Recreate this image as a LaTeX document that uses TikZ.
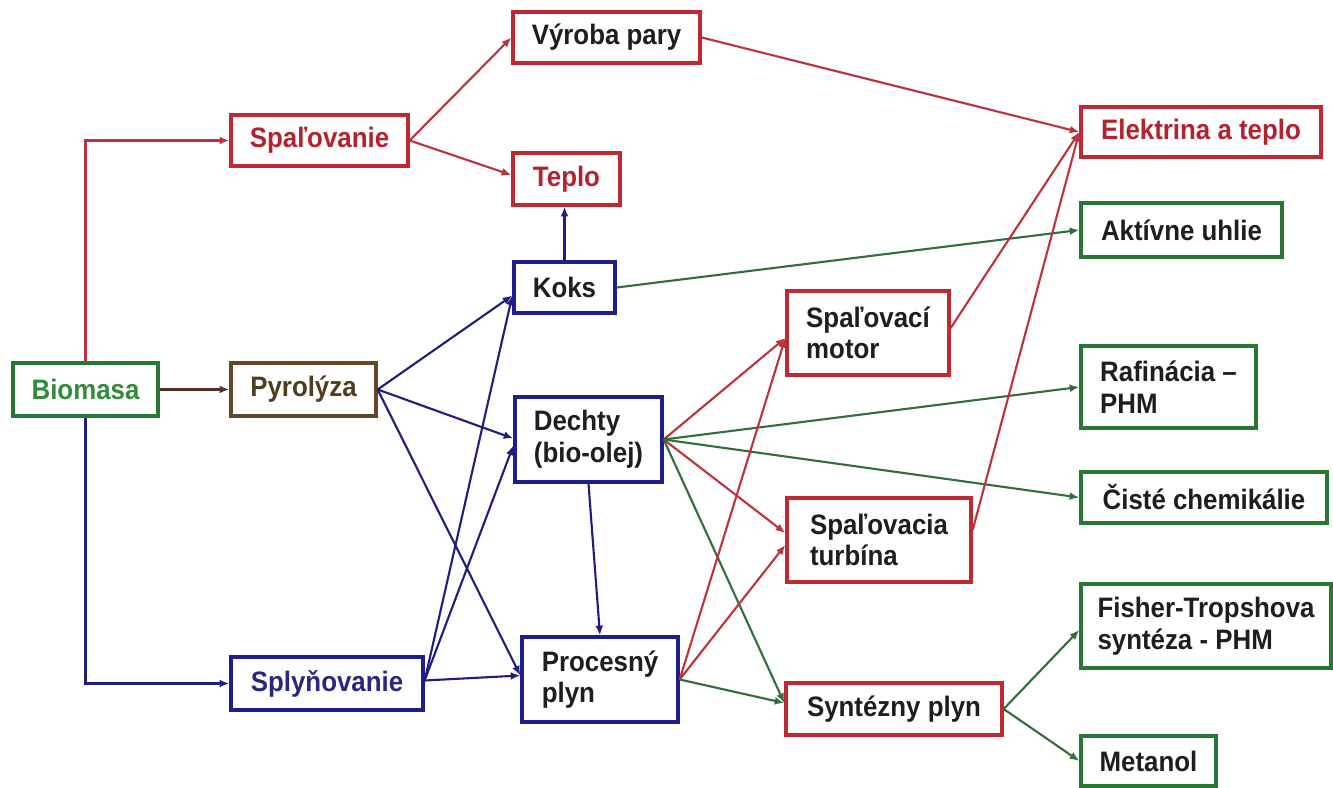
\documentclass[tikz,border=0pt]{standalone}
\usepackage{fontspec}
\setmainfont{Liberation Sans}[FakeStretch=0.92]
\usepackage{tikz}
\usetikzlibrary{positioning,calc,arrows.meta}

\definecolor{bred}{RGB}{192,40,50}
\definecolor{bblue}{RGB}{30,30,140}
\definecolor{bgreen}{RGB}{40,120,50}
\definecolor{bbrown}{RGB}{100,70,40}
\definecolor{tred}{RGB}{180,35,45}
\definecolor{tgreen}{RGB}{50,140,60}
\definecolor{tbrown}{RGB}{80,60,30}
\definecolor{tblue}{RGB}{40,40,130}
\definecolor{tblack}{RGB}{30,30,30}
\definecolor{lred}{RGB}{190,50,60}
\definecolor{lblue}{RGB}{30,30,130}
\definecolor{lgreen}{RGB}{50,110,60}
\definecolor{lbrown}{RGB}{80,50,40}

\tikzset{
  box/.style={draw, line width=1.9pt, fill=white, align=left, inner sep=0pt,
    text=tblack, font=\bfseries\fontsize{16}{18}\selectfont},
  wh/.style 2 args={minimum width=#1*0.02cm, minimum height=#2*0.02cm},
  redbox/.style={box, draw=bred},
  bluebox/.style={box, draw=bblue},
  greenbox/.style={box, draw=bgreen},
  brownbox/.style={box, draw=bbrown},
  link/.style={line width=1.2pt, -{Latex[length=5.5pt,width=4.5pt]}},
  redlink/.style={link, lred},
  bluelink/.style={link, lblue},
  greenlink/.style={link, lgreen},
  brownlink/.style={link, lbrown}
}

\begin{document}
\begin{tikzpicture}[x=0.02cm,y=-0.02cm]
\useasboundingbox[fill=white] (0,0) rectangle (1333,788);
% left column
\node[greenbox,wh={145}{53},text=tgreen] (bio) at (85.5,389.5) {Biomasa};
\node[brownbox,wh={145}{53},text=tbrown] (pyro) at (303.5,389.5) {Pyrolýza};
\node[redbox,wh={177}{51},text=tred] (spal) at (319.5,140.5) {Spaľovanie};
\node[bluebox,wh={192}{53},text=tblue] (splyn) at (327,683.5) {Splyňovanie};
% middle
\node[redbox,wh={187}{51}] (vyroba) at (606.5,37.5) {Výroba pary};
\node[redbox,wh={107}{52},text=tred] (teplo) at (566.5,179) {Teplo};
\node[bluebox,wh={101}{51}] (koks) at (564.5,287.5) {Koks};
\node[bluebox,wh={147}{85}] (dechty) at (588.5,439.5) {Dechty\\(bio-olej)};
\node[bluebox,wh={156}{85}] (proces) at (600,679.5) {Procesný\\plyn};
\node[redbox,wh={162}{84}] (motor) at (868,333) {Spaľovací\\motor};
\node[redbox,wh={184}{84}] (turb) at (879,540) {Spaľovacia\\turbína};
\node[redbox,wh={216}{52}] (synt) at (894,709) {Syntézny plyn};
% products
\node[redbox,wh={240}{50},text=tred] (elek) at (1201,132) {Elektrina a teplo};
\node[greenbox,wh={201}{54}] (uhlie) at (1181.5,230) {Aktívne uhlie};
\node[greenbox,wh={175}{82}] (rafin) at (1168.5,387) {Rafinácia --\\PHM};
\node[greenbox,wh={246}{51}] (chem) at (1204,497.5) {Čisté chemikálie};
\node[greenbox,wh={250}{84}] (fisher) at (1206,626) {Fisher-Tropshova\\syntéza - PHM};
\node[greenbox,wh={135}{50}] (metanol) at (1148.5,761) {Metanol};
%
\draw[redlink] (bio.north) |- (spal.west);
\draw[bluelink] (bio.south) |- (splyn.west);
\draw[brownlink] (bio.east) -- (pyro.west);
\draw[redlink] (spal.east) -- (vyroba.west);
\draw[redlink] (spal.east) -- ($(teplo.west)+(0,-4)$);
\draw[bluelink] (koks.north) -- (koks.north |- teplo.south);
\draw[redlink] (vyroba.east) -- (elek.west);
\draw[greenlink] (koks.east) -- (uhlie.west);
\draw[bluelink] (pyro.east) -- ($(koks.west)+(0,8)$);
\draw[bluelink] (pyro.east) -- ($(dechty.west)+(0,-1)$);
\draw[bluelink] (pyro.east) -- ($(proces.west)+(0,-4)$);
\draw[bluelink] ($(splyn.east)+(0,-3)$) -- ($(koks.west)+(0,8)$);
\draw[bluelink] ($(splyn.east)+(0,-3)$) -- ($(dechty.west)+(0,6)$);
\draw[bluelink] ($(splyn.east)+(0,-3)$) -- ($(proces.west)+(0,-4)$);
\draw[bluelink] (dechty.south) -- (proces.north);
% fan from Dechty
\draw[redlink] (dechty.east) -- ($(motor.west)+(0,5)$);
\draw[redlink] (dechty.east) -- ($(turb.west)+(0,-7)$);
\draw[greenlink] (dechty.east) -- (rafin.west);
\draw[greenlink] (dechty.east) -- (chem.west);
\draw[greenlink] (dechty.east) -- ($(synt.west)+(0,-6)$);
% fan from Procesny plyn
\draw[redlink] (proces.east) -- ($(motor.west)+(0,5)$);
\draw[redlink] (proces.east) -- ($(turb.west)+(0,5)$);
\draw[greenlink] (proces.east) -- ($(synt.west)+(0,-6)$);
%
\draw[redlink] ($(motor.east)+(0,-5)$) -- (elek.west);
\draw[redlink] ($(turb.east)+(0,-10)$) -- (elek.west);
\draw[greenlink] (synt.east) -- ($(fisher.west)+(0,4)$);
\draw[greenlink] (synt.east) -- (metanol.west);
\end{tikzpicture}
\end{document}
